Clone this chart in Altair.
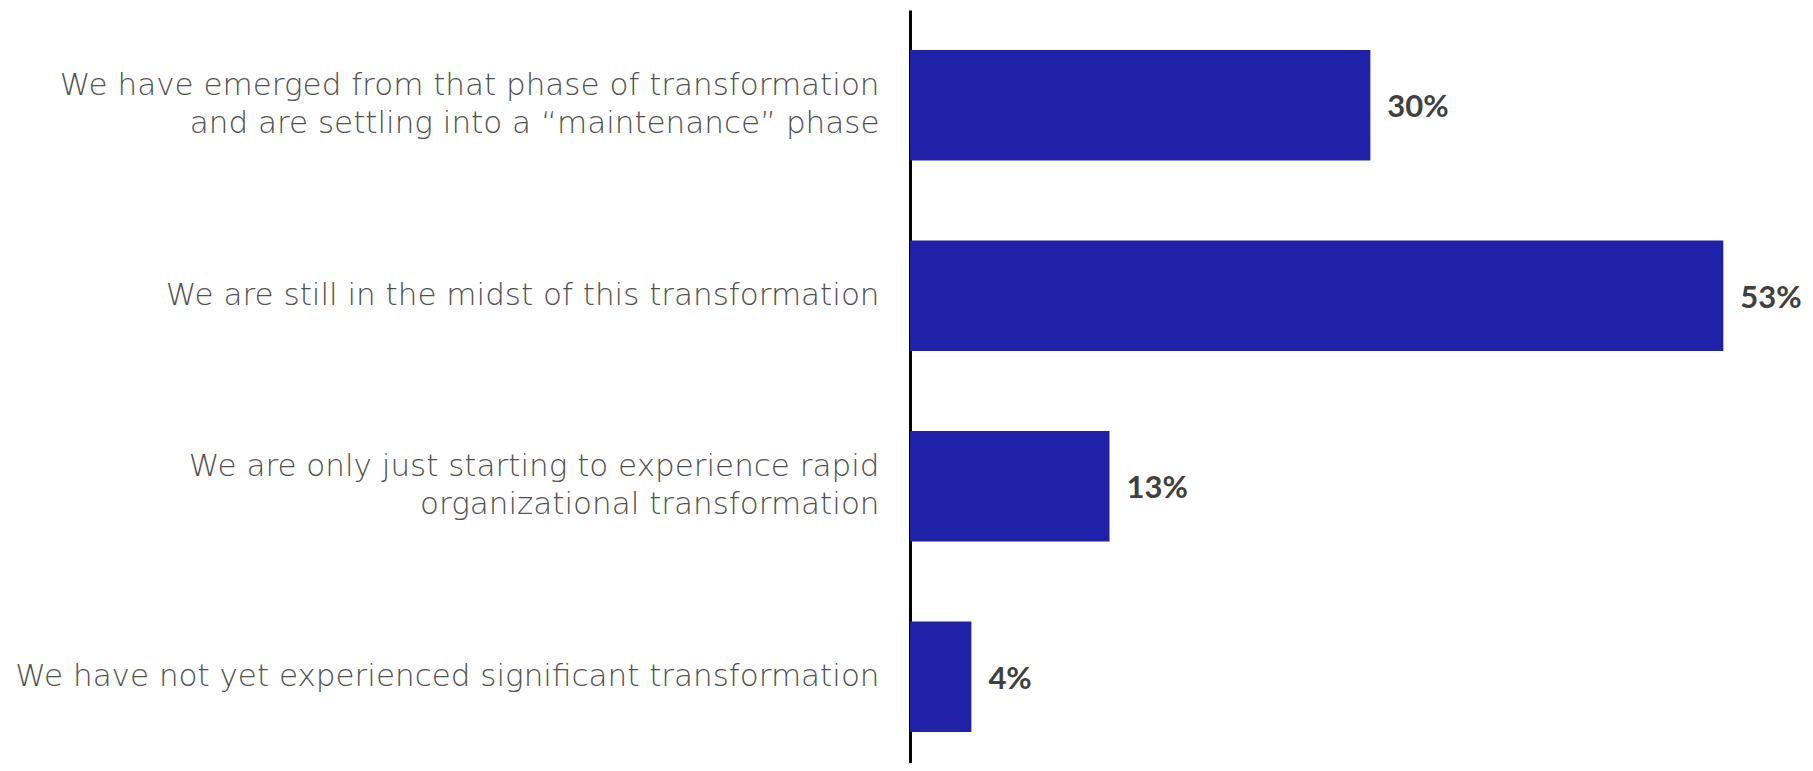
import altair as alt
import pandas as pd

categories = [
    "We have emerged from that phase of transformation|and are settling into a \u201cmaintenance\u201d phase",
    "We are still in the midst of this transformation",
    "We are only just starting to experience rapid|organizational transformation",
    "We have not yet experienced significant transformation",
]
values = [30, 53, 13, 4]
value_labels = ["30%", "53%", "13%", "4%"]

df = pd.DataFrame({"cat": categories, "val": values, "lab": value_labels})

LABEL_FONT = "DejaVu Sans"
VALUE_FONT = "Lato"

y_enc = alt.Y(
    "cat:N",
    sort=categories,
    scale=alt.Scale(range=[0, 762], paddingInner=0.42, paddingOuter=0.21),
    axis=alt.Axis(
        title=None,
        ticks=False,
        domainColor="#000000",
        domainWidth=3,
        labelFont=LABEL_FONT,
        labelFontSize=31,
        labelFontWeight=200,
        labelColor="#505050",
        labelPadding=31,
        labelLineHeight=38,
        labelLimit=1000,
        labelExpr="split(datum.label, '|')",
        labelOffset=alt.ExprRef(expr="indexof(datum.label, '|') >= 0 ? -19 : 0"),
    ),
)
x_enc = alt.X(
    "val:Q",
    scale=alt.Scale(domain=[0, 55], nice=False),
    axis=None,
)

bars = alt.Chart(df).mark_bar(color="#1f22a9").encode(y=y_enc, x=x_enc)
text = alt.Chart(df).mark_text(
    align="left", baseline="middle", dx=17, dy=3, font=VALUE_FONT, fontSize=31,
    fontWeight="bold", color="#404040"
).encode(y=alt.Y("cat:N", sort=categories), x="val:Q", text="lab:N")

chart = (
    alt.layer(bars, text)
    .properties(
        width=844,
        height=753,
        padding={"left": 902, "top": 2, "right": 51, "bottom": 0},
        autosize=alt.AutoSizeParams(type="none"),
        background="white",
    )
    .configure_view(strokeWidth=0, stroke="transparent")
)

chart.save("out.html", embed_options={"renderer": "svg", "actions": False})
